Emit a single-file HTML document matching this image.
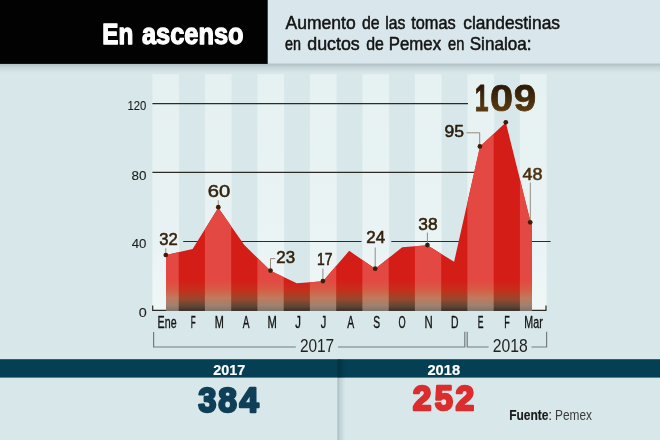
<!DOCTYPE html>
<html><head><meta charset="utf-8">
<style>
html,body{margin:0;padding:0;background:#d8e8ea;}
body{width:660px;height:440px;overflow:hidden;font-family:"Liberation Sans",sans-serif;}
svg{display:block;will-change:transform;opacity:0.999}
text{font-family:"Liberation Sans",sans-serif;}
</style></head><body>
<svg width="660" height="440" viewBox="0 0 660 440">
<defs>
<linearGradient id="hs" x1="0" y1="0" x2="0" y2="1"><stop offset="0" stop-color="#a9babd"/><stop offset="0.4" stop-color="#c6d4d8"/><stop offset="1" stop-color="#d8e8ea"/></linearGradient>
<linearGradient id="vs" x1="0" y1="0" x2="1" y2="0"><stop offset="0" stop-color="#8fa3ab" stop-opacity="0.75"/><stop offset="0.25" stop-color="#8fa3ab" stop-opacity="0.35"/><stop offset="1" stop-color="#8fa3ab" stop-opacity="0"/></linearGradient>
<linearGradient id="gd" gradientUnits="userSpaceOnUse" x1="0" y1="280" x2="0" y2="310"><stop offset="0" stop-color="#d41d17"/><stop offset="0.35" stop-color="#c4301c"/><stop offset="0.65" stop-color="#96482e"/><stop offset="0.88" stop-color="#5e4536"/><stop offset="1" stop-color="#40342c"/></linearGradient>
<linearGradient id="gl" gradientUnits="userSpaceOnUse" x1="0" y1="280" x2="0" y2="310"><stop offset="0" stop-color="#e44842"/><stop offset="0.3" stop-color="#d85a45"/><stop offset="0.6" stop-color="#c07a5c"/><stop offset="0.85" stop-color="#a08070"/><stop offset="1" stop-color="#80766c"/></linearGradient>
<linearGradient id="sg" gradientUnits="userSpaceOnUse" x1="0" y1="74" x2="0" y2="310"><stop offset="0" stop-color="#e6f1f2"/><stop offset="0.6" stop-color="#e9f3f4"/><stop offset="1" stop-color="#eff6f6"/></linearGradient>
<linearGradient id="g109" x1="0" y1="0" x2="0" y2="1"><stop offset="0.2" stop-color="#2c1a06"/><stop offset="0.85" stop-color="#5e3e12"/></linearGradient>
<linearGradient id="vb" x1="0" y1="0" x2="1" y2="0"><stop offset="0" stop-color="#042434" stop-opacity="0.6"/><stop offset="1" stop-color="#042434" stop-opacity="0"/></linearGradient>
<clipPath id="ac"><path d="M166,311 L166,255 L192.6,249 L218.3,207.8 L244.3,245 L270.5,270.8 L296.8,283.2 L322.9,281.3 L349.2,250.8 L375.2,268.8 L402.2,247.2 L427.4,245.3 L454.1,261.8 L480,146.6 L505.8,122.4 L530.3,221 L532,225 L532,311 Z"/></clipPath>
</defs>
<rect width="660" height="440" fill="#d8e8ea"/>
<g fill="url(#sg)">
<rect x="152.4" y="74.3" width="26.7" height="236"/>
<rect x="204.9" y="74.3" width="26.7" height="236"/>
<rect x="257.4" y="74.3" width="26.7" height="236"/>
<rect x="309.9" y="74.3" width="26.7" height="236"/>
<rect x="362.4" y="74.3" width="26.7" height="236"/>
<rect x="414.9" y="74.3" width="26.7" height="236"/>
<rect x="467.4" y="74.3" width="26.7" height="236"/>
<rect x="519.9" y="74.3" width="26.7" height="236"/>
</g>
<rect x="0" y="63" width="660" height="10" fill="url(#hs)"/>
<rect x="267.5" y="0" width="392.5" height="63.6" fill="#d9e7ec"/>
<rect x="0" y="0" width="267.7" height="63.9" fill="#020202"/>
<g stroke="#2e2a26" stroke-width="1.2" fill="none">
<line x1="152.4" y1="103.6" x2="468" y2="103.6"/>
<line x1="152.4" y1="172.4" x2="476" y2="172.4"/>
<line x1="183.2" y1="241.5" x2="361.5" y2="241.5"/>
<line x1="391.3" y1="241.5" x2="550.6" y2="241.5"/>
</g>
<path d="M152.7,305.6 V310.4 H546 V305.6" stroke="#2e2a26" stroke-width="1.2" fill="none"/>
<g clip-path="url(#ac)">
<rect x="150" y="100" width="400" height="211" fill="url(#gd)"/>
<g fill="url(#gl)">
<rect x="152.4" y="100" width="26.3" height="211"/>
<rect x="204.9" y="100" width="26.3" height="211"/>
<rect x="257.4" y="100" width="26.3" height="211"/>
<rect x="309.9" y="100" width="26.3" height="211"/>
<rect x="362.4" y="100" width="26.3" height="211"/>
<rect x="414.9" y="100" width="26.3" height="211"/>
<rect x="467.4" y="100" width="26.3" height="211"/>
<rect x="519.9" y="100" width="26.3" height="211"/>
</g>
</g>
<g stroke="#85796a" stroke-width="0.85" fill="none">
<path d="M165.8,248.2 V255"/>
<path d="M218.3,200.3 V207.5"/>
<path d="M270.5,271 V258.6 H275.3"/>
<path d="M322.9,268.6 V281.5"/>
<path d="M375.2,247.5 V269"/>
<path d="M427.4,232.6 V245"/>
<path d="M466.4,132.8 H479.7 V147"/>
<path d="M530.3,182.5 V222"/>
</g>
<g fill="#3a1e08">
<circle cx="165.8" cy="255" r="2.35"/>
<circle cx="218.3" cy="207.2" r="2.35"/>
<circle cx="270.5" cy="270.6" r="2.35"/>
<circle cx="322.9" cy="281.1" r="2.35"/>
<circle cx="375.2" cy="268.7" r="2.35"/>
<circle cx="427.4" cy="245.1" r="2.35"/>
<circle cx="479.9" cy="146.4" r="2.35"/>
<circle cx="505.8" cy="122.3" r="2.35"/>
<circle cx="530.2" cy="222.3" r="2.35"/>
</g>
<g stroke="#727c80" stroke-width="1.2" fill="none">
<path d="M153.6,332 V347 H295.8"/>
<path d="M338,347 H464.8 V331.8"/>
<path d="M467.2,331.8 V347 H488.6"/>
<path d="M531.5,347 H546.6 V331.8"/>
</g>
<rect x="337.5" y="377.6" width="8" height="62.4" fill="url(#vs)"/>
<rect x="0" y="359.2" width="660" height="18.4" fill="#053f53"/>
<rect x="337.5" y="359.2" width="8" height="18.4" fill="url(#vb)"/>
<text transform="translate(102.28,44.30) scale(0.8441,1)" font-size="28.73" font-weight="bold" fill="#fff" stroke="#fff" stroke-width="1.30" stroke-linejoin="round">En</text>
<text transform="translate(142.00,44.30) scale(0.8838,1)" font-size="28.73" font-weight="bold" fill="#fff" stroke="#fff" stroke-width="1.27" stroke-linejoin="round">ascenso</text>
<text transform="translate(285.55,29.05) scale(1.0028,1)" font-size="17.49" fill="#141414" stroke="#141414" stroke-width="0.50" stroke-linejoin="round">Aumento</text>
<text transform="translate(362.05,29.05) scale(0.9065,1)" font-size="17.49" fill="#141414" stroke="#141414" stroke-width="0.52" stroke-linejoin="round">de</text>
<text transform="translate(385.27,29.05) scale(0.8976,1)" font-size="17.49" fill="#141414" stroke="#141414" stroke-width="0.53" stroke-linejoin="round">las</text>
<text transform="translate(411.25,29.05) scale(0.9344,1)" font-size="17.49" fill="#141414" stroke="#141414" stroke-width="0.52" stroke-linejoin="round">tomas</text>
<text transform="translate(463.31,29.05) scale(0.9953,1)" font-size="17.49" fill="#141414" stroke="#141414" stroke-width="0.50" stroke-linejoin="round">clandestinas</text>
<text transform="translate(285.10,50.35) scale(0.8199,1)" font-size="17.49" fill="#141414" stroke="#141414" stroke-width="0.55" stroke-linejoin="round">en</text>
<text transform="translate(307.29,50.35) scale(1.0189,1)" font-size="17.49" fill="#141414" stroke="#141414" stroke-width="0.50" stroke-linejoin="round">ductos</text>
<text transform="translate(366.25,50.35) scale(0.9065,1)" font-size="17.49" fill="#141414" stroke="#141414" stroke-width="0.52" stroke-linejoin="round">de</text>
<text transform="translate(388.73,50.35) scale(0.9627,1)" font-size="17.49" fill="#141414" stroke="#141414" stroke-width="0.51" stroke-linejoin="round">Pemex</text>
<text transform="translate(448.09,50.35) scale(0.8366,1)" font-size="17.49" fill="#141414" stroke="#141414" stroke-width="0.54" stroke-linejoin="round">en</text>
<text transform="translate(469.72,50.35) scale(0.9772,1)" font-size="17.49" fill="#141414" stroke="#141414" stroke-width="0.51" stroke-linejoin="round">Sinaloa:</text>
<text transform="translate(127.54,110.45) scale(0.8379,1)" font-size="13.51" fill="#1c1c1c" stroke="#1c1c1c" stroke-width="0.11" stroke-linejoin="round">120</text>
<text transform="translate(131.53,179.65) scale(0.9951,1)" font-size="13.51" fill="#1c1c1c" stroke="#1c1c1c" stroke-width="0.10" stroke-linejoin="round">80</text>
<text transform="translate(131.74,248.45) scale(0.9806,1)" font-size="13.51" fill="#1c1c1c" stroke="#1c1c1c" stroke-width="0.10" stroke-linejoin="round">40</text>
<text transform="translate(138.70,317.15) scale(1.0658,1)" font-size="13.51" fill="#1c1c1c" stroke="#1c1c1c" stroke-width="0.10" stroke-linejoin="round">0</text>
<text transform="translate(159.26,245.22) scale(0.9920,1)" font-size="16.71" fill="#33220c" stroke="#33220c" stroke-width="0.55" stroke-linejoin="round">32</text>
<text transform="translate(207.83,197.42) scale(1.2048,1)" font-size="16.71" fill="#33220c" stroke="#33220c" stroke-width="0.50" stroke-linejoin="round">60</text>
<text transform="translate(276.29,263.43) scale(1.0072,1)" font-size="16.71" fill="#33220c" stroke="#33220c" stroke-width="0.55" stroke-linejoin="round">23</text>
<text transform="translate(317.10,265.12) scale(0.8330,1)" font-size="16.71" fill="#33220c" stroke="#33220c" stroke-width="0.60" stroke-linejoin="round">17</text>
<text transform="translate(366.28,243.22) scale(1.0150,1)" font-size="16.71" fill="#33220c" stroke="#33220c" stroke-width="0.55" stroke-linejoin="round">24</text>
<text transform="translate(418.33,229.82) scale(1.0381,1)" font-size="16.71" fill="#33220c" stroke="#33220c" stroke-width="0.54" stroke-linejoin="round">38</text>
<text transform="translate(444.55,136.53) scale(1.0480,1)" font-size="16.71" fill="#2a1c0c" stroke="#2a1c0c" stroke-width="0.54" stroke-linejoin="round">95</text>
<text transform="translate(522.49,179.72) scale(1.0737,1)" font-size="16.71" fill="#4a3010" stroke="#4a3010" stroke-width="0.53" stroke-linejoin="round">48</text>
<text transform="translate(474.65,111.00) scale(0.6744,1)" font-size="36.69" font-weight="bold" fill="url(#g109)" stroke="url(#g109)" stroke-width="0.96" stroke-linejoin="round">1</text>
<text transform="translate(490.00,111.00) scale(1.1309,1)" font-size="36.69" font-weight="bold" fill="url(#g109)" stroke="url(#g109)" stroke-width="0.75" stroke-linejoin="round">0</text>
<text transform="translate(513.64,111.00) scale(1.1010,1)" font-size="36.69" font-weight="bold" fill="url(#g109)" stroke="url(#g109)" stroke-width="0.76" stroke-linejoin="round">9</text>
<text transform="translate(157.62,327.95) scale(0.6517,1)" font-size="16.36" fill="#141414" stroke="#141414" stroke-width="0.36" stroke-linejoin="round">Ene</text>
<text transform="translate(190.72,327.95) scale(0.4891,1)" font-size="16.36" fill="#141414" stroke="#141414" stroke-width="0.40" stroke-linejoin="round">F</text>
<text transform="translate(214.80,327.95) scale(0.6670,1)" font-size="16.36" fill="#141414" stroke="#141414" stroke-width="0.36" stroke-linejoin="round">M</text>
<text transform="translate(242.65,327.95) scale(0.6188,1)" font-size="16.36" fill="#141414" stroke="#141414" stroke-width="0.37" stroke-linejoin="round">A</text>
<text transform="translate(267.57,327.95) scale(0.6848,1)" font-size="16.36" fill="#141414" stroke="#141414" stroke-width="0.36" stroke-linejoin="round">M</text>
<text transform="translate(295.17,327.95) scale(0.6957,1)" font-size="16.36" fill="#141414" stroke="#141414" stroke-width="0.35" stroke-linejoin="round">J</text>
<text transform="translate(320.78,327.95) scale(0.6812,1)" font-size="16.36" fill="#141414" stroke="#141414" stroke-width="0.36" stroke-linejoin="round">J</text>
<text transform="translate(347.35,327.95) scale(0.6370,1)" font-size="16.36" fill="#141414" stroke="#141414" stroke-width="0.37" stroke-linejoin="round">A</text>
<text transform="translate(373.13,327.95) scale(0.6281,1)" font-size="16.36" fill="#141414" stroke="#141414" stroke-width="0.37" stroke-linejoin="round">S</text>
<text transform="translate(398.42,327.95) scale(0.5603,1)" font-size="16.36" fill="#141414" stroke="#141414" stroke-width="0.38" stroke-linejoin="round">O</text>
<text transform="translate(424.56,327.95) scale(0.6957,1)" font-size="16.36" fill="#141414" stroke="#141414" stroke-width="0.35" stroke-linejoin="round">N</text>
<text transform="translate(451.04,327.95) scale(0.6321,1)" font-size="16.36" fill="#141414" stroke="#141414" stroke-width="0.37" stroke-linejoin="round">D</text>
<text transform="translate(477.78,327.95) scale(0.5255,1)" font-size="16.36" fill="#141414" stroke="#141414" stroke-width="0.39" stroke-linejoin="round">E</text>
<text transform="translate(504.15,327.95) scale(0.5503,1)" font-size="16.36" fill="#141414" stroke="#141414" stroke-width="0.39" stroke-linejoin="round">F</text>
<text transform="translate(524.32,327.95) scale(0.6528,1)" font-size="16.36" fill="#141414" stroke="#141414" stroke-width="0.36" stroke-linejoin="round">Mar</text>
<text transform="translate(299.88,351.70) scale(0.8755,1)" font-size="17.64" fill="#222">2017</text>
<text transform="translate(492.86,351.70) scale(0.8915,1)" font-size="17.64" fill="#222">2018</text>
<text transform="translate(213.15,374.90) scale(0.9582,1)" font-size="15.08" font-weight="bold" fill="#fff" stroke="#fff" stroke-width="0.20" stroke-linejoin="round">2017</text>
<text transform="translate(427.44,374.90) scale(0.9728,1)" font-size="15.08" font-weight="bold" fill="#fff" stroke="#fff" stroke-width="0.20" stroke-linejoin="round">2018</text>
<text transform="translate(198.29,412.10) scale(0.9467,1)" font-size="34.42" font-weight="bold" fill="#103f58" stroke="#103f58" stroke-width="2.47" stroke-linejoin="round">3</text>
<text transform="translate(218.35,412.10) scale(0.9762,1)" font-size="34.42" font-weight="bold" fill="#103f58" stroke="#103f58" stroke-width="2.43" stroke-linejoin="round">8</text>
<text transform="translate(239.40,412.10) scale(1.0021,1)" font-size="34.42" font-weight="bold" fill="#103f58" stroke="#103f58" stroke-width="2.40" stroke-linejoin="round">4</text>
<text transform="translate(412.75,409.90) scale(0.9762,1)" font-size="34.42" font-weight="bold" fill="#dc2d2e" stroke="#dc2d2e" stroke-width="2.43" stroke-linejoin="round">2</text>
<text transform="translate(434.69,409.90) scale(0.9467,1)" font-size="34.42" font-weight="bold" fill="#dc2d2e" stroke="#dc2d2e" stroke-width="2.47" stroke-linejoin="round">5</text>
<text transform="translate(455.55,409.90) scale(0.9762,1)" font-size="34.42" font-weight="bold" fill="#dc2d2e" stroke="#dc2d2e" stroke-width="2.43" stroke-linejoin="round">2</text>
<text transform="translate(509.13,420.32) scale(0.8388,1)" font-size="14.29" font-weight="bold" fill="#1a1a1a" stroke="#1a1a1a" stroke-width="0.16" stroke-linejoin="round">Fuente</text>
<text transform="translate(548.33,420.40) scale(0.9454,1)" font-size="14.51" fill="#333">:</text>
<text transform="translate(555.07,420.40) scale(0.8202,1)" font-size="14.51" fill="#3c3c3c">Pemex</text>
</svg>
</body></html>
